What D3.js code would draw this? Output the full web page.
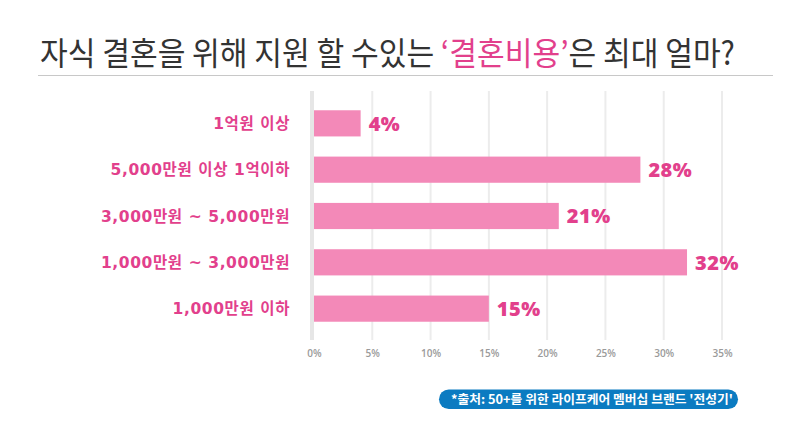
<!DOCTYPE html>
<html><head><meta charset="utf-8">
<script src="https://cdn.jsdelivr.net/npm/d3@7"></script>
<style>body{margin:0;background:#fff}svg{display:block}</style>
</head><body><svg id="c" width="800" height="430"></svg>
<script>
const categories = ["1억원 이상","5,000만원 이상 1억이하","3,000만원 ~ 5,000만원","1,000만원 ~ 3,000만원","1,000만원 이하"];
const values = [4, 28, 21, 32, 15];
const tickValues = [0,5,10,15,20,25,30,35];
const titleParts = [["자식 결혼을 위해 지원 할 수있는 ", "#333"], ["‘결혼비용’", "#e2408c"], ["은 최대 얼마?", "#333"]];
const sourceText = "*출처: 50+를 위한 라이프케어 멤버십 브랜드 '전성기'";

const svg = d3.select("#c");
const pink = "#e2408c", barColor = "#f389b8";

function fitWidth(sel, x0, w) {
  const tw = sel.node().getComputedTextLength();
  sel.attr("transform", `translate(${x0},0) scale(${w / tw},1) translate(${-x0},0)`);
}

// title
const title = svg.append("text").attr("x", 40).attr("y", 65)
  .style("font-family", "'Noto Sans CJK KR'").style("font-size", "32px").style("font-weight", 400);
titleParts.forEach(([t, c]) => title.append("tspan").attr("fill", c).text(t));
fitWidth(title, 40, 695);

svg.append("line").attr("x1", 38).attr("x2", 773).attr("y1", 75.5).attr("y2", 75.5)
  .attr("stroke", "#c8c8c8").attr("stroke-width", 1.2);

const x = d3.scaleLinear().domain([0, 35]).range([314, 722]);
const y = d3.scaleBand().domain(categories).range([101, 331]).paddingInner(0.435).paddingOuter(0.2);

// gridlines
svg.append("g").selectAll("line").data(tickValues).join("line")
  .attr("x1", d => d === 0 ? x(d) - 2 : x(d)).attr("x2", d => d === 0 ? x(d) - 2 : x(d))
  .attr("y1", 91).attr("y2", 340)
  .attr("stroke", d => d === 0 ? "#e6e6e6" : "#ececec")
  .attr("stroke-width", d => d === 0 ? 4 : 2);

// axis labels
const ax = svg.append("g").attr("transform", "translate(0,340)")
  .call(d3.axisBottom(x).tickValues(tickValues).tickFormat(d => d + "%").tickSize(0).tickPadding(10));
ax.select(".domain").remove();
ax.selectAll("text").attr("fill", "#9a9a9a").style("font-family", "'Open Sans', sans-serif").style("font-size", "10px").style("font-weight", 600);

// bars
svg.append("g").selectAll("rect").data(values).join("rect")
  .attr("x", x(0)).attr("y", (d, i) => y(categories[i]))
  .attr("width", d => x(d) - x(0)).attr("height", y.bandwidth())
  .attr("fill", barColor);

// value labels
svg.append("g").selectAll("text").data(values).join("text")
  .attr("x", d => x(d) + 8).attr("y", (d, i) => y(categories[i]) + y.bandwidth() / 2)
  .attr("dy", "0.36em").attr("fill", pink)
  .style("font-family", "'Open Sans', sans-serif").style("font-size", "20px").style("font-weight", 800)
  .style("letter-spacing", "0.5px")
  .text(d => d + "%");

// category labels
svg.append("g").selectAll("text").data(categories).join("text")
  .attr("x", 290).attr("y", d => y(d) + y.bandwidth() / 2)
  .attr("dy", "0.36em").attr("text-anchor", "end").attr("fill", pink)
  .style("font-family", "'DejaVu Sans', 'Noto Sans CJK KR'").style("font-size", "15.5px").style("font-weight", 700)
  .style("letter-spacing", "0.6px")
  .text(d => d);

// source pill
svg.append("rect").attr("x", 439).attr("y", 389.5).attr("width", 299).attr("height", 19.5).attr("rx", 9.75)
  .attr("fill", "#0b7bc1");
const src = svg.append("text").attr("x", 451).attr("y", 399.5).attr("dy", "0.36em").attr("fill", "#fff")
  .style("font-family", "'Noto Sans CJK KR'").style("font-size", "12.5px").style("font-weight", 700)
  .text(sourceText);
fitWidth(src, 451, 282);
</script></body></html>
